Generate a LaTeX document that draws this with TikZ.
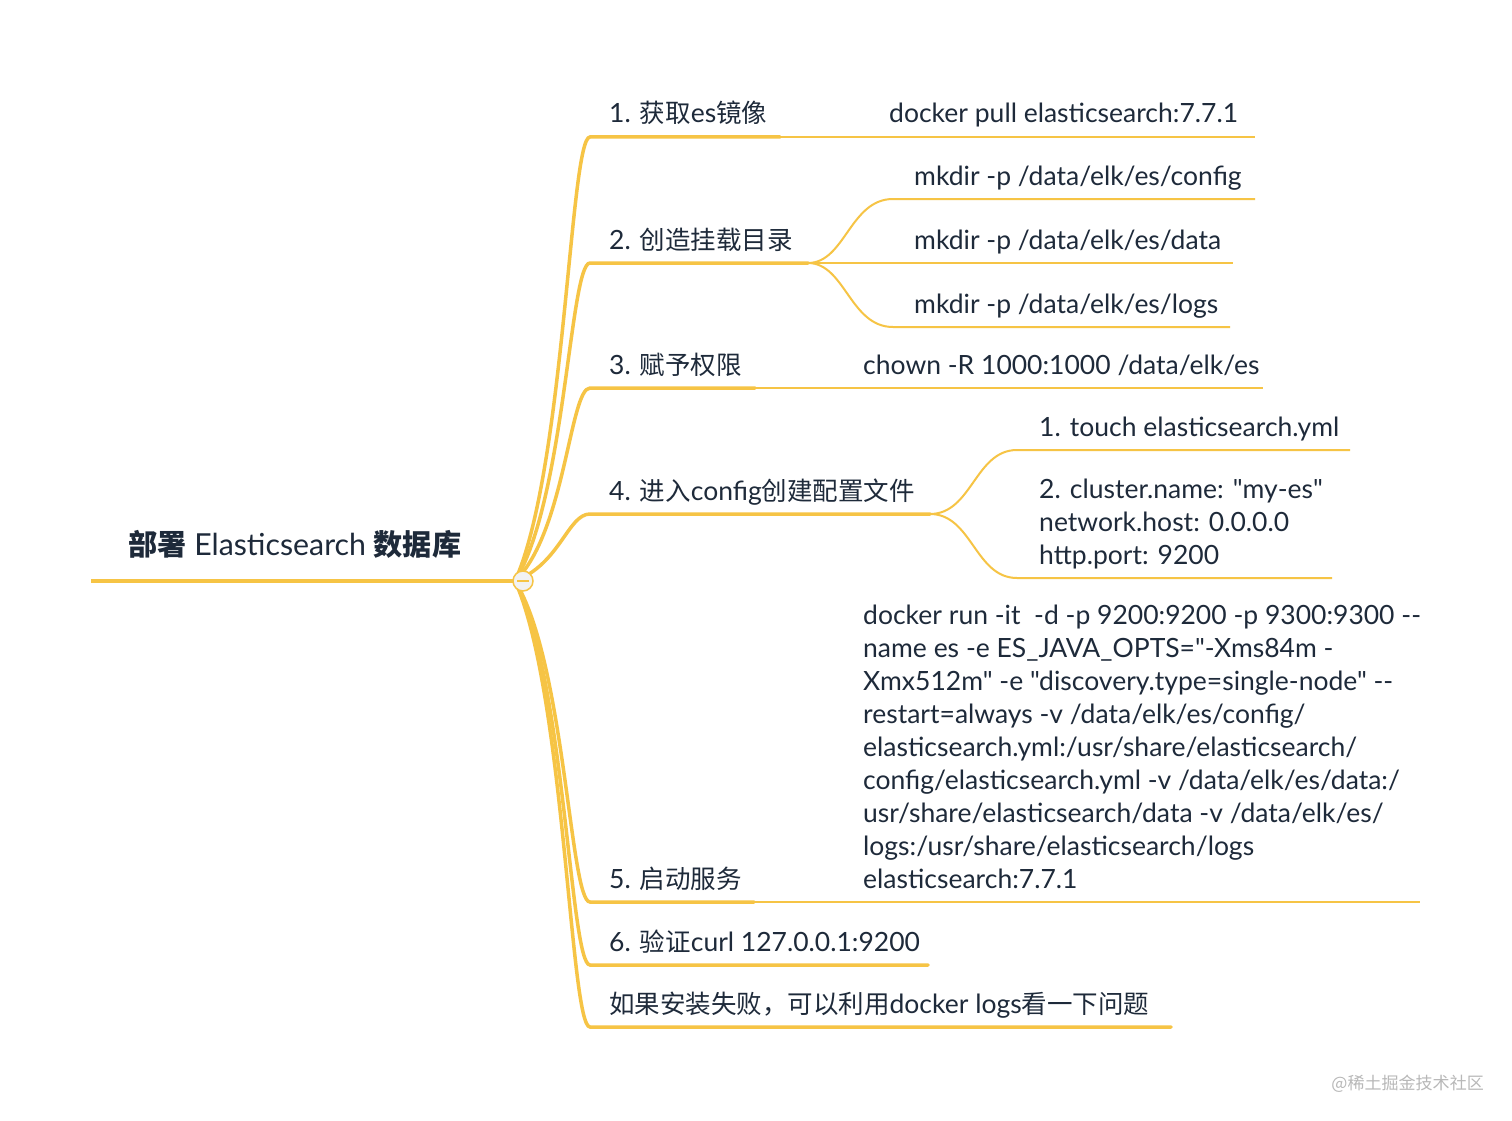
\documentclass[tikz,border=0pt]{standalone}
\usepackage{fontspec}
\setmainfont{Lato}[Ligatures=TeXOff]
\newfontfamily\cjk{Noto Sans CJK SC}[Scale=0.962]
\newcommand\zh[1]{{\cjk #1}}
\definecolor{ylw}{HTML}{F6C445}
\definecolor{txt}{HTML}{1E2A3A}
\definecolor{wm}{HTML}{B8B8B8}
\begin{document}
\begin{tikzpicture}[x=1pt,y=-1pt,
  lbl/.style={anchor=base west, inner sep=0pt, text=txt, font=\fontsize{26.5}{33}\selectfont, align=left},
  mainln/.style={draw=ylw, line width=3.5pt, line cap=round},
  subln/.style={draw=ylw, line width=2pt},
]
\useasboundingbox[fill=white] (0,0) rectangle (1512,1121);

% root
\node[anchor=base west, inner sep=0pt, text=txt, font=\fontsize{30.3}{32}\selectfont] (root) at (128,555) {\zh{\bfseries 部署} Elasticsearch \zh{\bfseries 数据库}};
\coordinate (r0) at (91,581);
\coordinate (rs) at (515,581);
\draw[draw=ylw, line width=4pt] (r0) -- (rs);

% branch coordinates
\coordinate (b1s) at (590,137);  \coordinate (b1e) at (780,137);
\coordinate (b2s) at (590,263);  \coordinate (b2e) at (808,263);
\coordinate (b3s) at (590,388);  \coordinate (b3e) at (755,388);
\coordinate (b4s) at (590,514);  \coordinate (b4e) at (930,514);
\coordinate (b5s) at (590,902);  \coordinate (b5e) at (754,902);
\coordinate (b6s) at (590,965);  \coordinate (b6e) at (928,965);
\coordinate (b7s) at (590,1027); \coordinate (b7e) at (1171,1027);

\draw[mainln] (rs) .. controls (565,470) and (570,137) .. (b1s) -- (b1e);
\draw[mainln] (rs) .. controls (565,501) and (570,263) .. (b2s) -- (b2e);
\draw[mainln] (rs) .. controls (565,533) and (570,388) .. (b3s) -- (b3e);
\draw[mainln] (rs) .. controls (560,564) and (568,514) .. (b4s) -- (b4e);
\draw[mainln] (rs) .. controls (565,661) and (570,902) .. (b5s) -- (b5e);
\draw[mainln] (rs) .. controls (565,677) and (570,965) .. (b6s) -- (b6e);
\draw[mainln] (rs) .. controls (565,692) and (570,1027) .. (b7s) -- (b7e);

% root toggle
\node[circle, draw=ylw, fill=black!5, line width=1.5pt, minimum size=20pt, inner sep=0pt] (tg) at (523,581) {};
\coordinate (tgl) at (517,581); \coordinate (tgr) at (529,581);
\draw[draw=ylw, line width=1.5pt] (tgl) -- (tgr);

% branch labels
\node[lbl] (l1) at (609,123) {1. \zh{获取}es\zh{镜像}};
\node[lbl] (l2) at (609,249) {2. \zh{创造挂载目录}};
\node[lbl] (l3) at (609,374) {3. \zh{赋予权限}};
\node[lbl] (l4) at (609,500) {4. \zh{进入}config\zh{创建配置文件}};
\node[lbl] (l5) at (609,888) {5. \zh{启动服务}};
\node[lbl] (l6) at (609,951) {6. \zh{验证}curl 127.0.0.1:9200};
\node[lbl] (l7) at (609,1013) {\zh{如果安装失败，可以利用}docker logs\zh{看一下问题}};

% branch 1 child
\coordinate (c1e) at (1255,137);
\draw[subln] (b1e) -- (c1e);
\node[lbl] (t1) at (889,123) {docker pull elasticsearch:7.7.1};

% branch 2 children
\coordinate (c2as) at (893,199); \coordinate (c2ae) at (1255,199);
\coordinate (c2be) at (1233,263);
\coordinate (c2cs) at (893,327); \coordinate (c2ce) at (1230,327);
\draw[subln] (b2e) .. controls (845,263) and (850,199) .. (c2as) -- (c2ae);
\draw[subln] (b2e) -- (c2be);
\draw[subln] (b2e) .. controls (845,263) and (850,327) .. (c2cs) -- (c2ce);
\node[lbl] (t2a) at (914,185) {mkdir -p /data/elk/es/config};
\node[lbl] (t2b) at (914,249) {mkdir -p /data/elk/es/data};
\node[lbl] (t2c) at (914,313) {mkdir -p /data/elk/es/logs};

% branch 3 child
\coordinate (c3e) at (1263,388);
\draw[subln] (b3e) -- (c3e);
\node[lbl] (t3) at (863,374) {chown -R 1000:1000 /data/elk/es};

% branch 4 children
\coordinate (c4as) at (1017,450); \coordinate (c4ae) at (1350,450);
\coordinate (c4bs) at (1017,578); \coordinate (c4be) at (1332,578);
\draw[subln] (b4e) .. controls (972,514) and (975,450) .. (c4as) -- (c4ae);
\draw[subln] (b4e) .. controls (972,514) and (975,578) .. (c4bs) -- (c4be);
\node[lbl] (t4a) at (1039,436) {1. touch elasticsearch.yml};
\node[lbl] (t4b) at (1039,564) {2. cluster.name: "my-es"\\network.host: 0.0.0.0\\http.port: 9200};

% branch 5 child
\coordinate (c5e) at (1420,902);
\draw[subln] (b5e) -- (c5e);
\node[lbl] (t5) at (863,888) {docker run -it\ \ -d -p 9200:9200 -p 9300:9300 --\\name es -e ES\_JAVA\_OPTS="-Xms84m -\\Xmx512m" -e "discovery.type=single-node" --\\restart=always -v /data/elk/es/config/\\elasticsearch.yml:/usr/share/elasticsearch/\\config/elasticsearch.yml -v /data/elk/es/data:/\\usr/share/elasticsearch/data -v /data/elk/es/\\logs:/usr/share/elasticsearch/logs\\elasticsearch:7.7.1};

% watermark
\node[anchor=base east, inner sep=0pt, text=wm, font=\cjk\fontsize{17.7}{20}\selectfont] (wmk) at (1484,1089) {@稀土掘金技术社区};
\end{tikzpicture}
\end{document}
